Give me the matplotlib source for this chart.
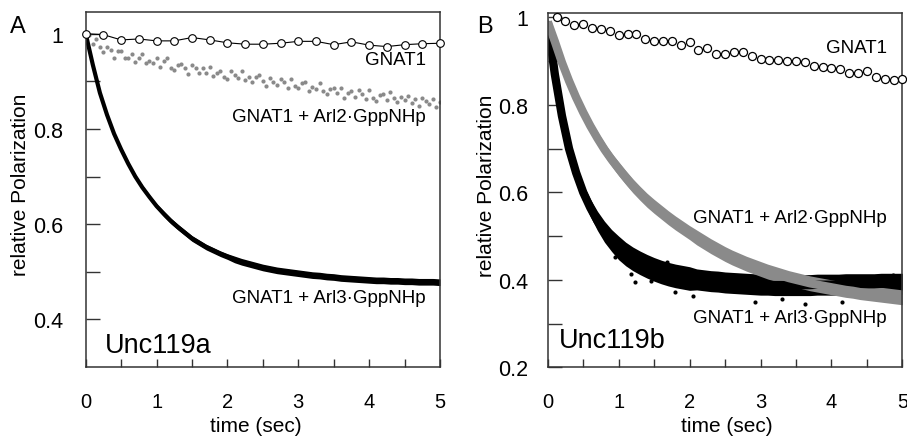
import numpy as np
import matplotlib
matplotlib.use("Agg")
import matplotlib.pyplot as plt
from matplotlib import font_manager

# ---------- data ----------
# Panel A, Unc119a
t_gnat1_a = np.arange(21) * 0.25
gnat1_a = [1.000, 0.998, 0.987, 0.989, 0.985, 0.985, 0.992, 0.987, 0.981, 0.978,
           0.978, 0.980, 0.984, 0.984, 0.977, 0.983, 0.976, 0.973, 0.977, 0.979, 0.980]

t_arl2_a = np.linspace(0, 5, 101)
arl2_a = [1.000, 0.997, 0.979, 0.989, 0.972, 0.962, 0.973, 0.966, 0.950, 0.963,
          0.964, 0.948, 0.950, 0.958, 0.940, 0.950, 0.957, 0.938, 0.943, 0.938,
          0.948, 0.931, 0.942, 0.948, 0.929, 0.924, 0.934, 0.936, 0.927, 0.916,
          0.935, 0.928, 0.918, 0.927, 0.918, 0.931, 0.911, 0.918, 0.922, 0.910,
          0.905, 0.921, 0.914, 0.907, 0.921, 0.902, 0.910, 0.898, 0.910, 0.913,
          0.901, 0.891, 0.906, 0.899, 0.893, 0.905, 0.899, 0.886, 0.905, 0.890,
          0.886, 0.896, 0.899, 0.880, 0.889, 0.884, 0.897, 0.879, 0.873, 0.884,
          0.886, 0.876, 0.886, 0.866, 0.876, 0.880, 0.868, 0.882, 0.874, 0.863,
          0.881, 0.866, 0.859, 0.871, 0.873, 0.861, 0.877, 0.864, 0.856, 0.868,
          0.860, 0.870, 0.855, 0.863, 0.848, 0.866, 0.859, 0.852, 0.863, 0.847,
          0.856]

t_arl3_a = np.linspace(0, 5, 51)
arl3_a = [1.000, 0.935, 0.876, 0.830, 0.790, 0.757, 0.727, 0.700, 0.677, 0.657,
          0.638, 0.622, 0.607, 0.594, 0.582, 0.570, 0.561, 0.552, 0.545, 0.538,
          0.532, 0.526, 0.521, 0.517, 0.513, 0.509, 0.506, 0.503, 0.501, 0.499,
          0.497, 0.495, 0.493, 0.492, 0.490, 0.489, 0.487, 0.486, 0.485, 0.484,
          0.483, 0.482, 0.482, 0.481, 0.481, 0.480, 0.480, 0.479, 0.479, 0.479,
          0.478]
arl3_a_spread = [0.003, 0.004, 0.004, 0.004, 0.004, 0.005, 0.005, 0.005, 0.005, 0.005,
                 0.005, 0.006, 0.006, 0.006, 0.006, 0.006, 0.006, 0.006, 0.006, 0.006,
                 0.006, 0.007, 0.007, 0.007, 0.007, 0.007, 0.007, 0.007, 0.007, 0.007,
                 0.007, 0.007, 0.007, 0.007, 0.007, 0.007, 0.007, 0.007, 0.007, 0.007,
                 0.007, 0.007, 0.007, 0.007, 0.007, 0.007, 0.007, 0.007, 0.007, 0.007,
                 0.007]

# Panel B, Unc119b
t_gnat1_b = np.arange(1, 41) * 0.125
gnat1_b = [1.002, 0.992, 0.982, 0.986, 0.975, 0.973, 0.969, 0.960, 0.963, 0.963,
           0.950, 0.945, 0.945, 0.947, 0.937, 0.943, 0.925, 0.929, 0.916, 0.916,
           0.922, 0.921, 0.911, 0.904, 0.902, 0.902, 0.901, 0.900, 0.899, 0.889,
           0.887, 0.884, 0.881, 0.873, 0.874, 0.878, 0.863, 0.859, 0.858, 0.860]

t_band_b = np.linspace(0, 5, 51)
arl2_b = [0.990, 0.945, 0.897, 0.855, 0.817, 0.783, 0.752, 0.724, 0.698, 0.675,
          0.654, 0.634, 0.615, 0.598, 0.582, 0.568, 0.555, 0.542, 0.530, 0.519,
          0.508, 0.497, 0.487, 0.477, 0.468, 0.459, 0.451, 0.444, 0.437, 0.431,
          0.425, 0.419, 0.414, 0.409, 0.404, 0.400, 0.396, 0.392, 0.389, 0.386,
          0.383, 0.380, 0.377, 0.375, 0.372, 0.370, 0.368, 0.366, 0.364, 0.362,
          0.360]
arl2_b_spread = [0.010, 0.012, 0.013, 0.013, 0.013, 0.013, 0.015, 0.015, 0.015, 0.015,
                 0.016, 0.016, 0.016, 0.016, 0.016, 0.016, 0.016, 0.016, 0.016, 0.016,
                 0.016, 0.017, 0.017, 0.017, 0.017, 0.017, 0.017, 0.017, 0.017, 0.017,
                 0.017, 0.017, 0.017, 0.017, 0.017, 0.017, 0.017, 0.017, 0.017, 0.017,
                 0.017, 0.017, 0.017, 0.017, 0.017, 0.017, 0.017, 0.017, 0.017, 0.017,
                 0.017]
arl3_b = [0.990, 0.870, 0.775, 0.700, 0.645, 0.600, 0.565, 0.535, 0.510, 0.490,
          0.473, 0.459, 0.448, 0.439, 0.431, 0.424, 0.418, 0.413, 0.409, 0.406,
          0.403, 0.401, 0.399, 0.397, 0.396, 0.394, 0.393, 0.392, 0.391, 0.390,
          0.389, 0.389, 0.388, 0.388, 0.388, 0.388, 0.388, 0.388, 0.389, 0.389,
          0.389, 0.389, 0.390, 0.390, 0.390, 0.390, 0.390, 0.391, 0.391, 0.391,
          0.391]
arl3_b_spread = [0.006, 0.010, 0.012, 0.014, 0.016, 0.018, 0.020, 0.022, 0.024, 0.025,
                 0.027, 0.027, 0.027, 0.027, 0.027, 0.027, 0.027, 0.027, 0.027, 0.027,
                 0.027, 0.024, 0.024, 0.024, 0.024, 0.024, 0.024, 0.024, 0.024, 0.024,
                 0.024, 0.024, 0.024, 0.024, 0.024, 0.024, 0.024, 0.024, 0.024, 0.024,
                 0.024, 0.024, 0.024, 0.024, 0.024, 0.024, 0.024, 0.024, 0.024, 0.024,
                 0.024]
# stray black points outside the dense band
arl3_b_out_t = [1.18, 1.23, 1.68, 1.80, 2.05, 2.62, 2.92, 3.30, 3.63, 4.15, 4.69, 4.87, 0.95, 1.45]
arl3_b_out = [0.414, 0.395, 0.441, 0.372, 0.364, 0.380, 0.349, 0.356, 0.345, 0.349, 0.406, 0.412, 0.452, 0.398]

# ---------- fonts ----------
names = {f.name for f in font_manager.fontManager.ttflist}
NARROW = "Liberation Sans Narrow" if "Liberation Sans Narrow" in names else "Liberation Sans"
plt.rcParams["font.family"] = ["Liberation Sans", "DejaVu Sans"]

GRAY = "#8a8a8a"
AXC = "#333333"

fig = plt.figure(figsize=(9.07, 4.39), dpi=100)
ax_a = fig.add_axes([0.0945, 0.1617, 0.3906, 0.808])
ax_b = fig.add_axes([0.6039, 0.161, 0.391, 0.807])


def style_axes(ax, ylim, yticks, ylabels, yminor, ypad):
    ax.set_xlim(0, 5)
    ax.set_ylim(*ylim)
    ax.set_xticks(range(6))
    ax.set_xticklabels([str(i) for i in range(6)], fontfamily=NARROW, fontsize=14.5)
    ax.set_xticks(np.arange(0.5, 5, 1.0), minor=True)
    ax.set_yticks(yticks)
    ax.set_yticklabels(ylabels, fontfamily=NARROW, fontsize=15.5)
    ax.set_yticks(yminor, minor=True)
    ax.tick_params(axis="x", which="both", direction="in", length=6, width=1,
                   color=AXC, pad=18, top=False)
    ax.tick_params(axis="y", which="both", direction="in", length=10, width=1,
                   color=AXC, pad=ypad, right=False)
    for s in ax.spines.values():
        s.set_color(AXC)
        s.set_linewidth(1.1)
    ax.set_xlabel("time (sec)", fontsize=15)
    ax.set_ylabel("relative Polarization", fontsize=15)


# ---------- panel A ----------
lo = [v - s for v, s in zip(arl3_a, arl3_a_spread)]
hi = [v + s for v, s in zip(arl3_a, arl3_a_spread)]
ax_a.fill_between(t_arl3_a, lo, hi, color="black", lw=0)
ax_a.plot(t_arl3_a, arl3_a, color="black", lw=3, solid_capstyle="butt")
ax_a.plot(t_arl2_a, arl2_a, ls="none", marker="o", ms=3, mec="none", mfc=GRAY)
ax_a.plot(t_gnat1_a, gnat1_a, color="black", lw=0.8, marker="o", ms=5.5,
          mfc="white", mec="black", mew=0.8, clip_on=False, zorder=5)

style_axes(ax_a, (0.30, 1.045), [0.4, 0.6, 0.8, 1.0], ["0.4", "0.6", "0.8", "1"],
           [0.5, 0.7, 0.9], 16)
ax_a.xaxis.set_label_coords(0.48, -0.138)
ax_a.yaxis.set_label_coords(-0.157, 0.516)

ax_a.text(4.80, 0.945, "GNAT1", ha="right", va="center", fontsize=13.5)
ax_a.text(4.80, 0.826, "GNAT1 + Arl2\u00b7GppNHp", ha="right", va="center", fontsize=13.5)
ax_a.text(4.80, 0.445, "GNAT1 + Arl3\u00b7GppNHp", ha="right", va="center", fontsize=13.5)
ax_a.text(0.27, 0.332, "Unc119a", ha="left", va="baseline", fontsize=19.5)

# ---------- panel B ----------
lo = [v - s for v, s in zip(arl3_b, arl3_b_spread)]
hi = [v + s for v, s in zip(arl3_b, arl3_b_spread)]
ax_b.fill_between(t_band_b, lo, hi, color="black", lw=0)
ax_b.plot(t_band_b, arl3_b, color="black", lw=6, solid_capstyle="butt")
ax_b.plot(arl3_b_out_t, arl3_b_out, ls="none", marker="o", ms=3, mec="none", mfc="black")

lo = [v - s for v, s in zip(arl2_b, arl2_b_spread)]
hi = [v + s for v, s in zip(arl2_b, arl2_b_spread)]
ax_b.fill_between(t_band_b, lo, hi, color=GRAY, lw=0)
ax_b.plot(t_band_b, arl2_b, color=GRAY, lw=6, solid_capstyle="butt")

ax_b.plot(t_gnat1_b, gnat1_b, ls="none", marker="o", ms=5.8,
          mfc="white", mec="black", mew=0.9, clip_on=False, zorder=5)

style_axes(ax_b, (0.2, 1.01), [0.2, 0.4, 0.6, 0.8, 1.0], ["0.2", "0.4", "0.6", "0.8", "1"],
           [0.3, 0.5, 0.7, 0.9], 14)
ax_b.xaxis.set_label_coords(0.505, -0.138)
ax_b.yaxis.set_label_coords(-0.146, 0.516)

ax_b.text(4.78, 0.931, "GNAT1", ha="right", va="center", fontsize=13.5)
ax_b.text(4.78, 0.543, "GNAT1 + Arl2\u00b7GppNHp", ha="right", va="center", fontsize=13.5)
ax_b.text(4.78, 0.315, "GNAT1 + Arl3\u00b7GppNHp", ha="right", va="center", fontsize=13.5)
ax_b.text(0.164, 0.247, "Unc119b", ha="left", va="baseline", fontsize=19.5)

# panel letters
fig.text(0.020, 0.938, "A", ha="center", va="center", fontsize=17)
fig.text(0.535, 0.938, "B", ha="center", va="center", fontsize=17)

fig.savefig("out.png", dpi=100)
